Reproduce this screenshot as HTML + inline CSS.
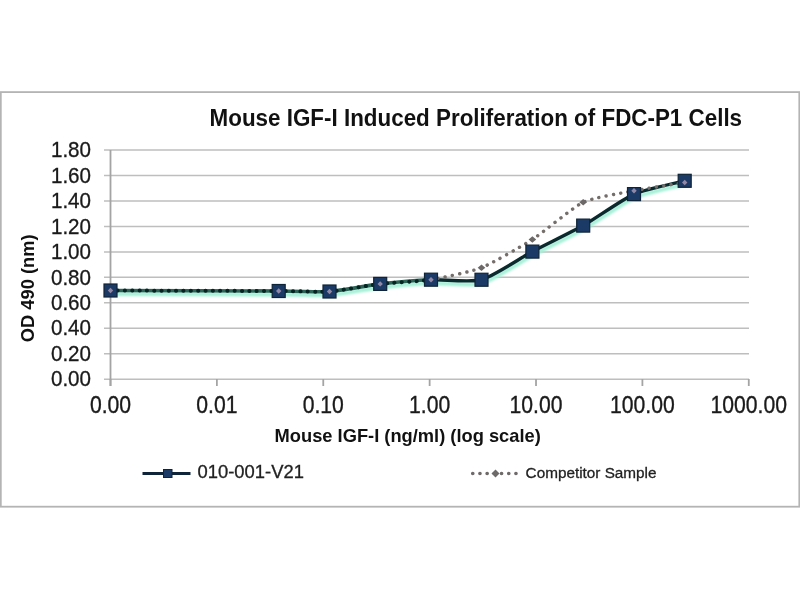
<!DOCTYPE html>
<html><head><meta charset="utf-8">
<style>
html,body{margin:0;padding:0;background:#fff;width:800px;height:600px;overflow:hidden}
svg{display:block;filter:blur(0.35px)}
text{font-family:"Liberation Sans",sans-serif}
</style></head>
<body>
<svg width="800" height="600" viewBox="0 0 800 600">
<defs>
<filter id="bl" x="-10%" y="-10%" width="120%" height="120%"><feGaussianBlur stdDeviation="1.1"/></filter>
<clipPath id="cl"><rect x="0" y="0" width="436" height="600"/></clipPath>
<clipPath id="cr"><rect x="436" y="0" width="364" height="600"/></clipPath>
</defs>
<rect x="0" y="0" width="800" height="600" fill="#fff"/>
<rect x="0.8" y="92.1" width="798.5" height="414.6" fill="#fff" stroke="#b4b4b4" stroke-width="1.8"/>
<text transform="translate(209.6,125.6) scale(1,1.04)" font-size="22.4" font-weight="bold" fill="#111">Mouse IGF-I Induced Proliferation of FDC-P1 Cells</text>
<g stroke="#bebebe" stroke-width="1.5">
<line x1="104" y1="379.20" x2="749" y2="379.20" />
<line x1="104" y1="353.74" x2="749" y2="353.74" />
<line x1="104" y1="328.28" x2="749" y2="328.28" />
<line x1="104" y1="302.82" x2="749" y2="302.82" />
<line x1="104" y1="277.36" x2="749" y2="277.36" />
<line x1="104" y1="251.90" x2="749" y2="251.90" />
<line x1="104" y1="226.44" x2="749" y2="226.44" />
<line x1="104" y1="200.98" x2="749" y2="200.98" />
<line x1="104" y1="175.52" x2="749" y2="175.52" />
<line x1="104" y1="150.06" x2="749" y2="150.06" />
</g>
<g stroke="#a4a4a4" stroke-width="1.8">
<line x1="110.5" y1="150" x2="110.5" y2="386"/>
<line x1="110.50" y1="379" x2="110.50" y2="386" />
<line x1="216.88" y1="379" x2="216.88" y2="386" />
<line x1="323.26" y1="379" x2="323.26" y2="386" />
<line x1="429.64" y1="379" x2="429.64" y2="386" />
<line x1="536.02" y1="379" x2="536.02" y2="386" />
<line x1="642.40" y1="379" x2="642.40" y2="386" />
<line x1="748.78" y1="379" x2="748.78" y2="386" />
</g>
<g font-size="20.6" fill="#1a1a1a" stroke="#1a1a1a" stroke-width="0.3" text-anchor="end">
<text transform="translate(91,386.40) scale(1,1.1)">0.00</text>
<text transform="translate(91,360.94) scale(1,1.1)">0.20</text>
<text transform="translate(91,335.48) scale(1,1.1)">0.40</text>
<text transform="translate(91,310.02) scale(1,1.1)">0.60</text>
<text transform="translate(91,284.56) scale(1,1.1)">0.80</text>
<text transform="translate(91,259.10) scale(1,1.1)">1.00</text>
<text transform="translate(91,233.64) scale(1,1.1)">1.20</text>
<text transform="translate(91,208.18) scale(1,1.1)">1.40</text>
<text transform="translate(91,182.72) scale(1,1.1)">1.60</text>
<text transform="translate(91,157.26) scale(1,1.1)">1.80</text>
</g>
<g font-size="21.2" fill="#1a1a1a" stroke="#1a1a1a" stroke-width="0.3" text-anchor="middle">
<text transform="translate(110.50,412.5) scale(1,1.1)">0.00</text>
<text transform="translate(216.88,412.5) scale(1,1.1)">0.01</text>
<text transform="translate(323.26,412.5) scale(1,1.1)">0.10</text>
<text transform="translate(429.64,412.5) scale(1,1.1)">1.00</text>
<text transform="translate(536.02,412.5) scale(1,1.1)">10.00</text>
<text transform="translate(642.40,412.5) scale(1,1.1)">100.00</text>
<text transform="translate(748.78,412.5) scale(1,1.1)">1000.00</text>
</g>
<text transform="translate(274.6,441.5) scale(1,1.03)" font-size="18.3" font-weight="bold" fill="#111">Mouse IGF-I (ng/ml) (log scale)</text>
<text transform="translate(33.7,342.2) rotate(-90)" font-size="18.3" font-weight="bold" fill="#111">OD 490 (nm)</text>
<g fill="none" stroke-linecap="round" stroke-linejoin="round">
<path d="M110.50,290.50 C129.00,290.56 254.61,290.89 278.70,291.00 C302.79,291.11 318.33,292.28 329.50,291.50 C340.67,290.72 369.03,285.20 380.20,283.90 C391.37,282.60 419.86,280.16 431.00,279.70 C442.14,279.24 470.35,282.84 481.50,279.75 C492.65,276.66 521.21,257.56 532.40,251.60 C543.59,245.64 572.02,231.92 583.20,225.60 C594.38,219.28 622.84,199.03 634.00,194.10 C645.16,189.17 679.12,182.26 684.70,180.80" transform="translate(0.6,3.4)" stroke="#a6f0d8" stroke-width="4.2" filter="url(#bl)"/>
<path d="M110.50,290.50 C129.00,290.56 254.61,290.89 278.70,291.00 C302.79,291.11 318.33,292.28 329.50,291.50 C340.67,290.72 369.03,285.20 380.20,283.90 C391.37,282.60 419.86,280.16 431.00,279.70 C442.14,279.24 470.35,282.84 481.50,279.75 C492.65,276.66 521.21,257.56 532.40,251.60 C543.59,245.64 572.02,231.92 583.20,225.60 C594.38,219.28 622.84,199.03 634.00,194.10 C645.16,189.17 679.12,182.26 684.70,180.80" stroke="#0b2a2e" stroke-width="3.4" clip-path="url(#cr)"/>
<path d="M110.50,290.50 C129.00,290.56 254.61,290.89 278.70,291.00 C302.79,291.11 318.33,292.28 329.50,291.50 C340.67,290.72 369.03,285.20 380.20,283.90 C391.37,282.60 419.86,280.16 431.00,279.70 C442.14,279.24 470.35,282.84 481.50,279.75 C492.65,276.66 521.21,257.56 532.40,251.60 C543.59,245.64 572.02,231.92 583.20,225.60 C594.38,219.28 622.84,199.03 634.00,194.10 C645.16,189.17 679.12,182.26 684.70,180.80" stroke="#2e6458" stroke-width="3.6" clip-path="url(#cl)"/>
<path d="M110.50,290.50 C125.64,290.55 258.99,290.91 278.70,291.00 C298.41,291.09 320.37,292.14 329.50,291.50 C338.63,290.86 371.06,284.96 380.20,283.90 C389.33,282.84 421.88,281.15 431.00,279.70 C440.12,278.25 472.37,271.37 481.50,267.75 C490.63,264.13 523.25,245.40 532.40,239.50 C541.55,233.60 574.06,206.59 583.20,202.20 C592.34,197.81 624.87,192.52 634.00,190.75 C643.13,188.98 680.14,183.24 684.70,182.50" stroke="#746d6a" stroke-width="3.4" stroke-dasharray="0.1 7.2" clip-path="url(#cr)"/>
<path d="M110.50,290.50 C125.64,290.55 258.99,290.91 278.70,291.00 C298.41,291.09 320.37,292.14 329.50,291.50 C338.63,290.86 371.06,284.96 380.20,283.90 C389.33,282.84 421.88,281.15 431.00,279.70 C440.12,278.25 472.37,271.37 481.50,267.75 C490.63,264.13 523.25,245.40 532.40,239.50 C541.55,233.60 574.06,206.59 583.20,202.20 C592.34,197.81 624.87,192.52 634.00,190.75 C643.13,188.98 680.14,183.24 684.70,182.50" stroke="#032420" stroke-width="4" stroke-dasharray="0.1 7.2" clip-path="url(#cl)"/>
</g>
<g fill="#1c3a66" stroke="#0f2438" stroke-width="1.2">
<rect x="104.00" y="284.00" width="13" height="13" />
<rect x="272.20" y="284.50" width="13" height="13" />
<rect x="323.00" y="285.00" width="13" height="13" />
<rect x="373.70" y="277.40" width="13" height="13" />
<rect x="424.50" y="273.20" width="13" height="13" />
<rect x="475.00" y="273.25" width="13" height="13" />
<rect x="525.90" y="245.10" width="13" height="13" />
<rect x="576.70" y="219.10" width="13" height="13" />
<rect x="627.50" y="187.60" width="13" height="13" />
<rect x="678.20" y="174.30" width="13" height="13" />
</g>
<g fill="#9088a6">
<path d="M107.80,290.50 L110.50,287.80 L113.20,290.50 L110.50,293.20 Z" fill="#9088a6"/>
<path d="M276.00,291.00 L278.70,288.30 L281.40,291.00 L278.70,293.70 Z" fill="#9088a6"/>
<path d="M326.80,291.50 L329.50,288.80 L332.20,291.50 L329.50,294.20 Z" fill="#9088a6"/>
<path d="M377.50,283.90 L380.20,281.20 L382.90,283.90 L380.20,286.60 Z" fill="#9088a6"/>
<path d="M428.30,279.70 L431.00,277.00 L433.70,279.70 L431.00,282.40 Z" fill="#9088a6"/>
<path d="M477.70,267.75 L481.50,264.45 L485.30,267.75 L481.50,271.05 Z" fill="#6c6868"/>
<path d="M528.60,239.50 L532.40,236.20 L536.20,239.50 L532.40,242.80 Z" fill="#6c6868"/>
<path d="M579.40,202.20 L583.20,198.90 L587.00,202.20 L583.20,205.50 Z" fill="#6c6868"/>
<path d="M631.30,190.75 L634.00,188.05 L636.70,190.75 L634.00,193.45 Z" fill="#9088a6"/>
<path d="M682.00,182.50 L684.70,179.80 L687.40,182.50 L684.70,185.20 Z" fill="#9088a6"/>
</g>
<line x1="142.5" y1="473.5" x2="190.5" y2="473.5" stroke="#0f2438" stroke-width="3"/>
<rect x="163.5" y="469.5" width="8.5" height="8" fill="#1c3a66" stroke="#0f2438" stroke-width="1"/>
<text transform="translate(197.5,477.7) scale(1,1.04)" font-size="18.4" fill="#222" stroke="#222" stroke-width="0.3">010-001-V21</text>
<line x1="472.7" y1="473.5" x2="516" y2="473.5" stroke="#6e6a6a" stroke-width="3.6" stroke-dasharray="0.1 7.1" stroke-linecap="round"/>
<path d="M491.5,473.5 L495.5,469.5 L499.5,473.5 L495.5,477.5 Z" fill="#6e6a6a"/>
<text x="525.6" y="477.8" font-size="15.3" fill="#222" stroke="#222" stroke-width="0.3">Competitor Sample</text>
</svg>
</body></html>
